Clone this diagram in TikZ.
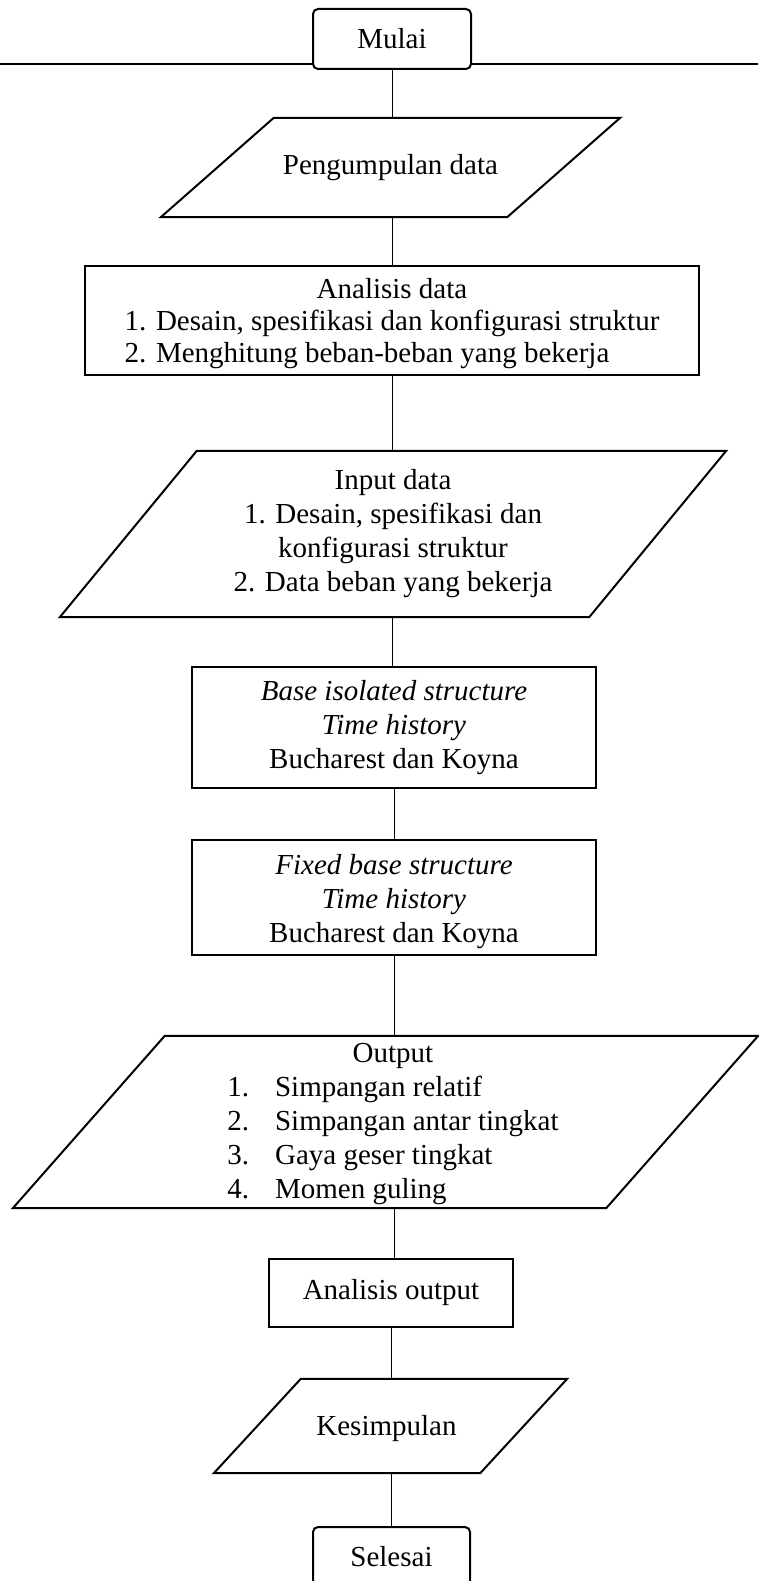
\documentclass[tikz,border=0pt]{standalone}
\usepackage{fontspec}
\setmainfont{Liberation Serif}
\usetikzlibrary{calc}

\begin{document}
\begin{tikzpicture}[x=1pt,y=-1pt,
  every node/.style={font=\fontsize{29}{34}\selectfont, inner sep=0pt, align=center},
  proses/.style={draw, line width=2pt},
  terminal/.style={proses, rounded corners=5pt},
  garis/.style={line width=2pt},
  alur/.style={line width=0.8pt}]
  \useasboundingbox (0,0) rectangle (758,1581);

  % mulai dan garis tepi atas
  \node [terminal, minimum width=158pt, minimum height=60pt] (mulai) at (392,39) {Mulai};
  \coordinate (kiri)  at (0,64);
  \coordinate (kanan) at (758,64);
  \draw [line width=1.4pt] (kiri) -- (kiri -| mulai.west);
  \draw [line width=1.4pt] (mulai.east |- kanan) -- (kanan);

  % pengumpulan data
  \node [minimum width=459pt, minimum height=99pt] (kumpul) at (390.5,167.5) {Pengumpulan data};
  \draw [garis] ($ (kumpul.north west)+(113,0) $) -- (kumpul.north east)
    -- ($ (kumpul.south east)-(113,0) $) -- (kumpul.south west) -- cycle;

  % analisis data
  \node [proses, minimum width=614pt, minimum height=109pt] (analisis) at (392,320.5) {};
  \node [font=\fontsize{29}{32}\selectfont] (isianalisis) at ($ (analisis)+(0,4) $)
    {\begin{tabular}{@{}l@{}}
       \multicolumn{1}{@{}c@{}}{Analisis data}\\
       1. Desain, spesifikasi dan konfigurasi struktur\\
       2. Menghitung beban-beban yang bekerja
     \end{tabular}};

  % input data
  \node [minimum width=666pt, minimum height=166pt] (input) at (393,534)
    {Input data\\ 1. Desain, spesifikasi dan\\ konfigurasi struktur\\ 2. Data beban yang bekerja};
  \draw [garis] ($ (input.north west)+(137,0) $) -- (input.north east)
    -- ($ (input.south east)-(137,0) $) -- (input.south west) -- cycle;

  % base isolated
  \node [proses, minimum width=404pt, minimum height=121pt] (isolasi) at (394,727.5)
    {\textit{Base isolated structure}\\ \textit{Time history}\\ Bucharest dan Koyna};

  % fixed base
  \node [proses, minimum width=404pt, minimum height=115pt] (jepit) at (394,897.5) {};
  \node (isijepit) at ($ (jepit)+(0,4) $)
    {\textit{Fixed base structure}\\ \textit{Time history}\\ Bucharest dan Koyna};

  % output
  \node [minimum width=745pt, minimum height=172pt] (output) at (385.5,1122) {};
  \draw [garis] ($ (output.north west)+(152,0) $) -- (output.north east)
    -- ($ (output.south east)-(152,0) $) -- (output.south west) -- cycle;
  \node (isioutput) at (393,1124)
    {\begin{tabular}{@{}l@{\hspace{26pt}}l@{}}
       \multicolumn{2}{c}{Output}\\
       1. & Simpangan relatif\\
       2. & Simpangan antar tingkat\\
       3. & Gaya geser tingkat\\
       4. & Momen guling
     \end{tabular}};

  % analisis output
  \node [proses, minimum width=244pt, minimum height=68pt] (anout) at (391,1293) {Analisis output};

  % kesimpulan
  \node [minimum width=353pt, minimum height=94pt] (simpul) at (390.5,1426) {};
  \draw [garis] ($ (simpul.north west)+(87,0) $) -- (simpul.north east)
    -- ($ (simpul.south east)-(87,0) $) -- (simpul.south west) -- cycle;
  \node (isisimpul) at ($ (simpul)+(-4,3) $) {Kesimpulan};

  % selesai
  \node [terminal, minimum width=157pt, minimum height=60pt] (selesai) at (391.5,1557) {Selesai};

  % alur
  \draw [alur] (mulai.south)    -- (mulai.south |- kumpul.north);
  \draw [alur] (mulai.south |- kumpul.south) -- (mulai.south |- analisis.north);
  \draw [alur] (analisis.south) -- (analisis.south |- input.north);
  \draw [alur] (analisis.south |- input.south) -- (analisis.south |- isolasi.north);
  \draw [alur] (isolasi.south)  -- (isolasi.south |- jepit.north);
  \draw [alur] (jepit.south)    -- (jepit.south |- output.north);
  \draw [alur] (jepit.south |- output.south) -- (jepit.south |- anout.north);
  \draw [alur] (anout.south)    -- (anout.south |- simpul.north);
  \draw [alur] (anout.south |- simpul.south) -- (anout.south |- selesai.north);
\end{tikzpicture}
\end{document}
